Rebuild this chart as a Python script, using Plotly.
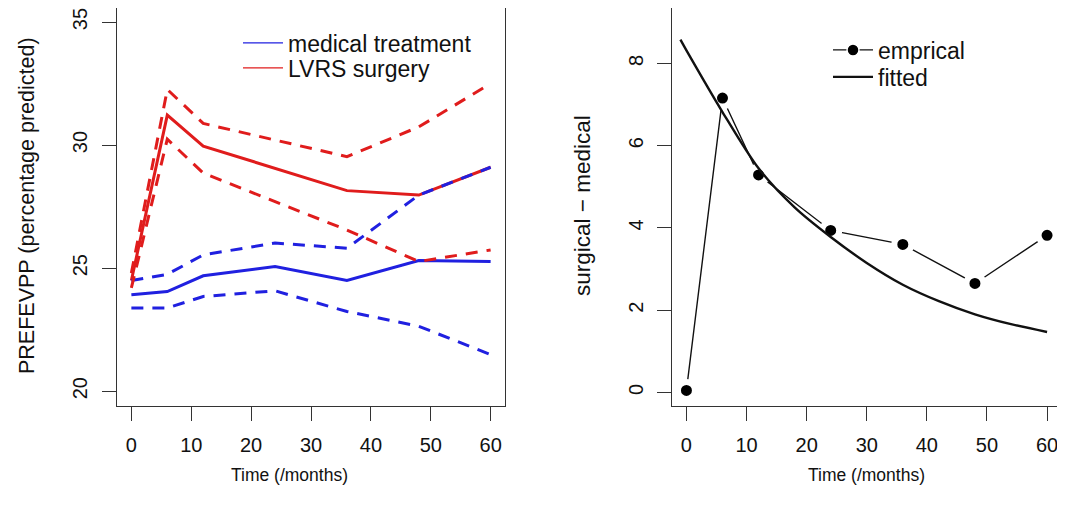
import plotly.graph_objects as go

# ---- data ----
months = [0, 6, 12, 24, 36, 48, 60]
med_mean = [23.92, 24.05, 24.69, 25.07, 24.50, 25.31, 25.27]
med_upper = [24.50, 24.75, 25.54, 26.02, 25.81, 27.97, 29.10]
med_lower = [23.38, 23.38, 23.85, 24.08, 23.24, 22.64, 21.49]
surg_mean = [24.50, 31.22, 29.96, 29.06, 28.15, 27.97, 29.10]
surg_upper = [24.80, 32.26, 30.88, 30.20, 29.53, 30.74, 32.50]
surg_lower = [24.20, 30.24, 28.86, 27.70, 26.55, 25.27, 25.74]

emp_t = [0, 6, 12, 24, 36, 48, 60]
emp_y = [0.05, 7.16, 5.29, 3.94, 3.60, 2.65, 3.82]

fit_t = [-1, 0, 6, 12, 18, 24, 30, 36, 42, 48, 54, 60]
fit_y = [8.58, 8.32, 6.82, 5.45, 4.50, 3.78, 3.15, 2.62, 2.22, 1.90, 1.66, 1.47]

x_ticks = [0, 10, 20, 30, 40, 50, 60]
left_y_ticks = [20, 25, 30, 35]
right_y_ticks = [0, 2, 4, 6, 8]

BLUE = "#2020e0"
RED = "#e01c1c"
INK = "#111111"
FONT = "Liberation Sans, Arial, Helvetica, sans-serif"
DASH = "12px,9px"

W, H = 1065, 524
OFF = 8  # page body margin


def px(x):
    return (x - OFF) / W


def py(y):
    return min(1.0, max(0.0, 1 - (y - OFF) / H))


fig = go.Figure()

# left panel
fig.add_trace(go.Scatter(x=months, y=surg_mean, mode="lines", line=dict(color=RED, width=3),
                         showlegend=False, xaxis="x", yaxis="y"))
fig.add_trace(go.Scatter(x=months, y=med_mean, mode="lines", line=dict(color=BLUE, width=3),
                         showlegend=False, xaxis="x", yaxis="y"))
for arr in (med_upper, med_lower):
    fig.add_trace(go.Scatter(x=months, y=arr, mode="lines", line=dict(color=BLUE, width=3, dash=DASH),
                             showlegend=False, xaxis="x", yaxis="y"))
for arr in (surg_upper, surg_lower):
    fig.add_trace(go.Scatter(x=months, y=arr, mode="lines", line=dict(color=RED, width=3, dash=DASH),
                             showlegend=False, xaxis="x", yaxis="y"))

# right panel
fig.add_trace(go.Scatter(x=emp_t, y=emp_y, mode="lines+markers", showlegend=False,
                         line=dict(color=INK, width=1.4),
                         marker=dict(color="#000", size=17, line=dict(color="white", width=6)),
                         xaxis="x2", yaxis="y2"))
fig.add_trace(go.Scatter(x=fit_t, y=fit_y, mode="lines", showlegend=False,
                         line=dict(color=INK, width=2.4, shape="spline", smoothing=0.8),
                         xaxis="x2", yaxis="y2"))

# legend entries (thin lines, as in the reference)
fig.add_trace(go.Scatter(x=[None], y=[None], mode="lines", line=dict(color=BLUE, width=1.2),
                         name="medical treatment", legend="legend", xaxis="x", yaxis="y"))
fig.add_trace(go.Scatter(x=[None], y=[None], mode="lines", line=dict(color=RED, width=1.2),
                         name="LVRS surgery", legend="legend2", xaxis="x", yaxis="y"))
fig.add_trace(go.Scatter(x=[None], y=[None], mode="lines+markers", line=dict(color=INK, width=1.3),
                         marker=dict(color="#000", size=12, line=dict(color="white", width=1.5)),
                         name="emprical", legend="legend3", xaxis="x2", yaxis="y2"))
fig.add_trace(go.Scatter(x=[None], y=[None], mode="lines", line=dict(color=INK, width=2.2),
                         name="fitted", legend="legend4", xaxis="x2", yaxis="y2"))

ydom = [py(406), py(8)]
axis_common = dict(showline=True, mirror=True, linecolor="#333", linewidth=1,
                   ticks="outside", ticklen=14, tickcolor="#333", tickwidth=1,
                   showgrid=False, zeroline=False, automargin=False,
                   ticklabeloverflow="allow",
                   tickfont=dict(family=FONT, size=20, color=INK))


def leg(x_text, y_center):
    return dict(x=px(x_text - 50), y=py(y_center), xanchor="left", yanchor="middle",
                bgcolor="rgba(0,0,0,0)", font=dict(family=FONT, size=23, color=INK),
                itemwidth=40, borderwidth=0)


fig.update_layout(
    width=W, height=H,
    margin=dict(l=0, r=0, t=0, b=0),
    paper_bgcolor="white", plot_bgcolor="white",
    font=dict(family=FONT, color=INK),
    xaxis=dict(domain=[px(117), px(505)], range=[-2.4, 62.4], tickvals=x_ticks,
               anchor="y", ticklabelstandoff=7, **axis_common),
    yaxis=dict(domain=ydom, range=[19.4, 35.57], tickvals=left_y_ticks,
               anchor="x", tickangle=-90, ticklabelstandoff=7, **axis_common),
    xaxis2=dict(domain=[px(672), px(1061.5)], range=[-2.4, 62.4], tickvals=x_ticks,
                anchor="y2", ticklabelstandoff=7, **axis_common),
    yaxis2=dict(domain=ydom, range=[-0.33, 9.35], tickvals=right_y_ticks,
                anchor="x2", tickangle=-90, ticklabelstandoff=6, **axis_common),
    legend=leg(288, 43),
    legend2=leg(288, 68),
    legend3=leg(878, 50),
    legend4=leg(878, 77),
    annotations=[
        dict(text="Time (/months)", x=px(289), y=py(475), xref="paper", yref="paper",
             xanchor="center", yanchor="middle", showarrow=False,
             font=dict(family=FONT, size=17.5, color=INK)),
        dict(text="Time (/months)", x=px(866), y=py(475), xref="paper", yref="paper",
             xanchor="center", yanchor="middle", showarrow=False,
             font=dict(family=FONT, size=17.5, color=INK)),
        dict(text="PREFEVPP (percentage predicted)", x=px(27), y=py(206), xref="paper",
             yref="paper", xanchor="center", yanchor="middle", showarrow=False, textangle=-90,
             font=dict(family=FONT, size=21.5, color=INK)),
        dict(text="surgical \u2212 medical", x=px(582), y=py(206), xref="paper",
             yref="paper", xanchor="center", yanchor="middle", showarrow=False, textangle=-90,
             font=dict(family=FONT, size=22.5, color=INK)),
    ],
)

fig.write_html("out.html")
